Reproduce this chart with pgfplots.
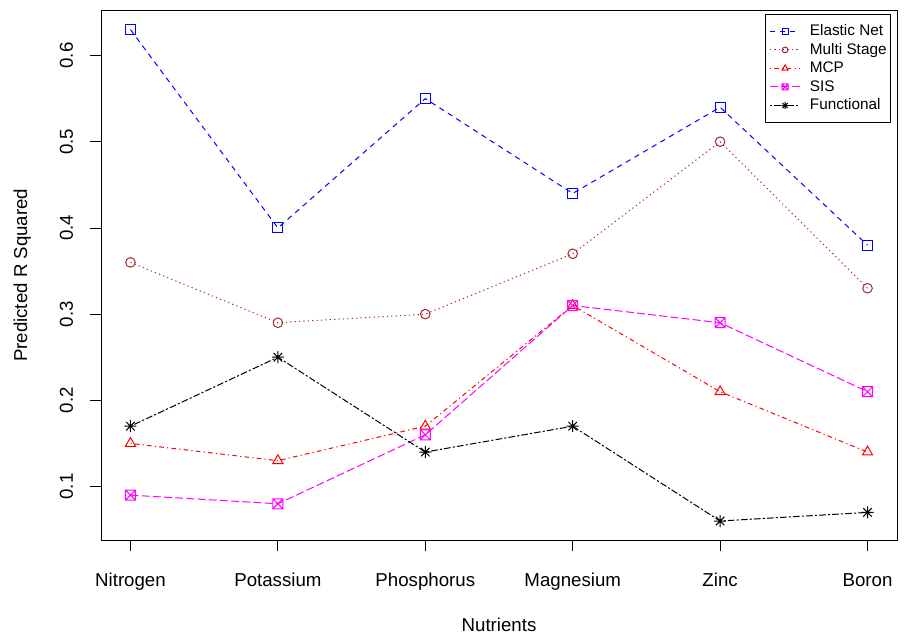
\documentclass[border=0pt]{standalone}
\usepackage{fontspec}
\setmainfont{Liberation Sans}
\usepackage{pgfplots}
\pgfplotsset{compat=1.18}
\definecolor{rbrown}{RGB}{165,42,42}
\definecolor{rmag}{RGB}{255,0,255}
\definecolor{rblue}{RGB}{0,0,255}
\definecolor{rred}{RGB}{255,0,0}
\pgfdeclareplotmark{boxx}{%
  \pgfpathrectangle{\pgfpoint{-\pgfplotmarksize}{-\pgfplotmarksize}}{\pgfpoint{2\pgfplotmarksize}{2\pgfplotmarksize}}%
  \pgfpathmoveto{\pgfpoint{-\pgfplotmarksize}{-\pgfplotmarksize}}\pgfpathlineto{\pgfpoint{\pgfplotmarksize}{\pgfplotmarksize}}%
  \pgfpathmoveto{\pgfpoint{-\pgfplotmarksize}{\pgfplotmarksize}}\pgfpathlineto{\pgfpoint{\pgfplotmarksize}{-\pgfplotmarksize}}%
  \pgfusepathqstroke}
\pgfdeclareplotmark{star8}{%
  \pgfpathmoveto{\pgfpoint{-\pgfplotmarksize}{0pt}}\pgfpathlineto{\pgfpoint{\pgfplotmarksize}{0pt}}%
  \pgfpathmoveto{\pgfpoint{0pt}{-\pgfplotmarksize}}\pgfpathlineto{\pgfpoint{0pt}{\pgfplotmarksize}}%
  \pgfpathmoveto{\pgfpoint{-0.707\pgfplotmarksize}{-0.707\pgfplotmarksize}}\pgfpathlineto{\pgfpoint{0.707\pgfplotmarksize}{0.707\pgfplotmarksize}}%
  \pgfpathmoveto{\pgfpoint{-0.707\pgfplotmarksize}{0.707\pgfplotmarksize}}\pgfpathlineto{\pgfpoint{0.707\pgfplotmarksize}{-0.707\pgfplotmarksize}}%
  \pgfusepathqstroke}
\begin{document}
\begin{tikzpicture}
\path[use as bounding box] (-75.75pt,-72pt) rectangle (604.5pt,405.5pt);
\begin{axis}[
  at={(0,0)}, anchor=south west,
  scale only axis, width=597pt, height=398pt,
  xmin=0.8, xmax=6.2, ymin=0.0372, ymax=0.6528,
  font=\fontsize{14}{16}\selectfont,
  /pgf/number format/assume math mode=true,
  xtick={1,2,3,4,5,6},
  xticklabels={Nitrogen,Potassium,Phosphorus,Magnesium,Zinc,Boron},
  ytick={0.1,0.2,0.3,0.4,0.5,0.6},
  yticklabels={0.1,0.2,0.3,0.4,0.5,0.6},
  tick align=outside, major tick length=8pt,
  tick style={black, line width=0.6pt},
  axis line style={line width=0.6pt},
  axis x line*=box, axis y line*=box,
  xtick pos=bottom, ytick pos=left,
  xticklabel style={anchor=base, yshift=-26pt, inner sep=0pt},
  yticklabel style={anchor=center, inner sep=0pt, xshift=-18pt, rotate=90},
  xlabel={Nutrients},
  ylabel={Predicted R Squared},
  every axis x label/.style={at={(rel axis cs:0.5,0)}, anchor=base, yshift=-68pt},
  every axis y label/.style={at={(rel axis cs:0,0.5)}, anchor=center, xshift=-59pt, rotate=90},
  legend style={at={(rel axis cs:1,1)}, anchor=north east, xshift=-4.5pt, yshift=-3pt,
    font=\fontsize{11.5}{13}\selectfont, draw=black, line width=0.6pt,
    inner xsep=3pt, inner ysep=7.5pt, row sep=3.4pt,
    nodes={inner sep=0pt, text height=8.5pt, text depth=2pt},
    /tikz/every even column/.append style={column sep=10.5pt},
    /tikz/every odd column/.append style={column sep=7pt}},
  legend cell align=left,
  legend image code/.code={%
    \draw[#1] (0pt,0pt) -- (22.5pt,0pt);
    \draw[#1, mark options={solid, scale=0.6}] plot coordinates {(11.25pt,0pt)};},
  every axis plot/.append style={line width=0.75pt, mark options={solid}},
]
\addplot[rblue, dash pattern=on 4pt off 3.5pt, mark=square, mark size=3.75pt]
  coordinates {(1,0.63) (2,0.40) (3,0.55) (4,0.44) (5,0.54) (6,0.38)};
\addlegendentry{Elastic Net}
\addplot[rbrown, dash pattern=on 0.9pt off 2.4pt, mark=o, mark size=3.6pt]
  coordinates {(1,0.36) (2,0.29) (3,0.30) (4,0.37) (5,0.50) (6,0.33)};
\addlegendentry{Multi Stage}
\addplot[rred, dash pattern=on 0.9pt off 2.4pt on 3.5pt off 2.4pt, mark=triangle, mark size=4.4pt]
  coordinates {(1,0.15) (2,0.13) (3,0.17) (4,0.31) (5,0.21) (6,0.14)};
\addlegendentry{MCP}
\addplot[rmag, dash pattern=on 6pt off 2.4pt, mark=boxx, mark size=3.75pt]
  coordinates {(1,0.09) (2,0.08) (3,0.16) (4,0.31) (5,0.29) (6,0.21)};
\addlegendentry{SIS}
\addplot[black, dash pattern=on 1.6pt off 1.6pt on 5pt off 1.6pt, mark=star8, mark size=4.5pt]
  coordinates {(1,0.17) (2,0.25) (3,0.14) (4,0.17) (5,0.06) (6,0.07)};
\addlegendentry{Functional}
\end{axis}
\end{tikzpicture}
\end{document}
